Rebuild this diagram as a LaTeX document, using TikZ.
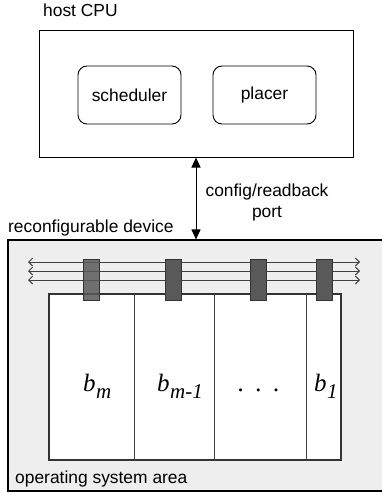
\documentclass[tikz,border=0pt]{standalone}
\usepackage{fontspec}
\setmainfont{Liberation Sans}
\newfontfamily\blockfont{Liberation Serif}
\usetikzlibrary{arrows.meta}

\tikzset{
  label text/.style={font=\fontsize{17.4}{21}\selectfont, inner sep=0pt},
  cpubox/.style={draw=black, line width=1pt, fill=white, inner sep=0pt},
  taskbox/.style={draw=black, line width=0.9pt, rounded corners=9pt, inner sep=0pt,
    minimum width=103pt, minimum height=58pt, font=\fontsize{17.4}{21}\selectfont},
  devbox/.style={draw=black, line width=1.1pt, fill=gray!13, inner sep=0pt},
  userarea/.style={draw=black!80, line width=1.1pt, fill=white, inner sep=0pt},
  divider/.style={draw=black!75, line width=0.9pt},
  busline/.style={draw=black!75, line width=0.9pt,
    {Straight Barb[length=4pt,width=8pt]}-{Straight Barb[length=4pt,width=8pt]}},
  busmacro/.style={draw=black!80, fill=black!65, line width=0.8pt, inner sep=0pt,
    minimum width=16pt, minimum height=41pt},
  blocklabel/.style={font=\blockfont\itshape\fontsize{25}{25}\selectfont, inner sep=0pt, anchor=base west},
  port/.style={line width=1pt, {Triangle[length=10pt,width=9pt]}-{Triangle[length=10pt,width=9pt]}}
}

\newcommand{\blk}[1]{b\kern0.5pt\raisebox{-7pt}{\fontsize{21}{21}\selectfont #1}}

\begin{document}
\begin{tikzpicture}[x=1pt,y=-1pt]
  \useasboundingbox (0,0) rectangle (382,492);

  % host CPU with its two software components
  \node[label text, anchor=base west] (cpulabel) at (43,17) {host CPU};
  \node[cpubox, minimum width=314pt, minimum height=126pt] (cpu) at (196,94) {};
  \node[taskbox] (sched) at (129.5,95) {scheduler};
  \node[taskbox] (placer) at (264.5,95) {placer};

  % reconfigurable device (runs on past the right edge of the page)
  \node[label text, anchor=base west] (devlabel) at (8,232) {reconfigurable device};
  \node[devbox, minimum width=412pt, minimum height=251pt] (dev) at (214,365.5) {};
  \node[label text, anchor=base west] (oslabel) at (15,483) {operating system area};

  % user area split into blocks
  \node[userarea, minimum width=292pt, minimum height=166pt] (area) at (195,377) {};
  \coordinate (d1) at (134,294);
  \coordinate (d2) at (214,294);
  \coordinate (d3) at (306,294);
  \draw[divider] (d1) -- (d1 |- area.south);
  \draw[divider] (d2) -- (d2 |- area.south);
  \draw[divider] (d3) -- (d3 |- area.south);

  % communication bus
  \foreach \y [count=\i] in {262,271,280} {
    \coordinate (busL\i) at (28,\y);
    \coordinate (busR\i) at (360,\y);
    \draw[busline] (busL\i) -- (busR\i);
  }

  % bus macros
  \node[busmacro, fill opacity=0.85] (bm1) at (91,279.5) {};
  \node[busmacro] (bm2) at (173,279.5) {};
  \node[busmacro] (bm3) at (258,279.5) {};
  \node[busmacro] (bm4) at (324,279.5) {};

  % block labels
  \node[blocklabel] (bm) at (83,391) {\blk{m}};
  \node[blocklabel] (bmm) at (157,391) {\blk{m-1}};
  \node[blocklabel] (dots) at (238,391) {.\hspace{11.5pt}.\hspace{11.5pt}.};
  \node[blocklabel] (b1) at (314,391) {\blk{1}};

  % configuration / readback port
  \coordinate (portend) at (cpu.south |- dev.north);
  \draw[port] (cpu.south) -- (portend);
  \node[label text, align=center] (portlabel) at (267,202) {config/readback\\port};
\end{tikzpicture}
\end{document}
